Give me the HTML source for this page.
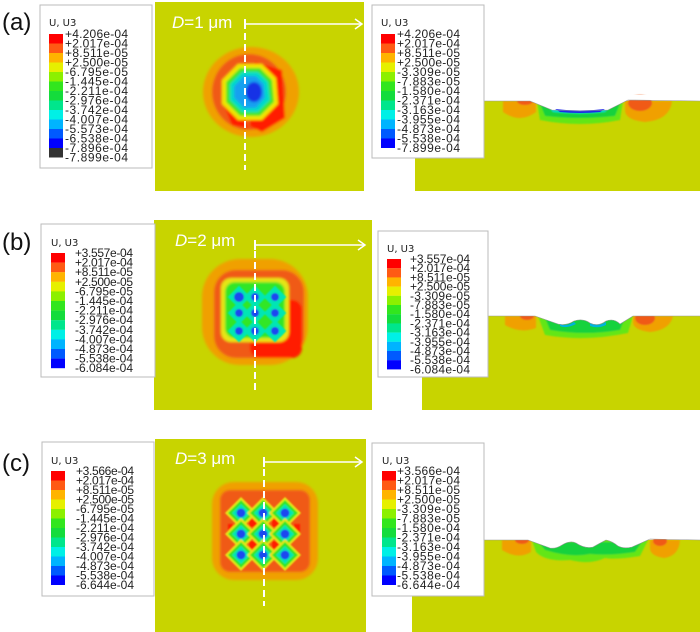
<!DOCTYPE html>
<html><head><meta charset="utf-8"><style>
html,body{margin:0;padding:0;background:#fff;}
svg{display:block;}
.lg{font-family:"Liberation Sans",sans-serif;font-size:12px;fill:#222;}
.tt{font-family:"DejaVu Sans","Liberation Sans",sans-serif;font-size:10px;fill:#222;}
.pl{font-family:"Liberation Sans",sans-serif;font-size:24px;fill:#111;}
.dd{font-family:"Liberation Sans",sans-serif;font-size:17px;fill:#fff;}
</style></head><body>
<svg width="700" height="632" viewBox="0 0 700 632" xmlns="http://www.w3.org/2000/svg">
<defs>
<filter id="bl"><feGaussianBlur stdDeviation="1.2"/></filter>
<filter id="bl2"><feGaussianBlur stdDeviation="0.8"/></filter>
</defs>

<text class="pl" x="2" y="30">(a)</text>
<text class="pl" x="2" y="250">(b)</text>
<text class="pl" x="2" y="471">(c)</text>

<rect x="155" y="2" width="209" height="189" fill="#c8d400"/>
<rect x="154" y="220" width="218" height="190" fill="#c8d400"/>
<rect x="155" y="439" width="211" height="193" fill="#c8d400"/>

<!-- Blob a -->
<g filter="url(#bl)">
<ellipse cx="251" cy="92" rx="48" ry="45" fill="#f0a000"/>
<ellipse cx="249" cy="92" rx="37" ry="38" fill="#f05a14"/>
<path d="M255 62 L282 70 L285 118 L262 132 L250 126 Z" fill="#ff1e00"/>
<path d="M222 100 L232 125 L248 128 L240 110 Z" fill="#ff1e00"/>
<polygon points="238,64 262,64 276,78 278,104 262,120 238,120 222,104 222,80" fill="#f0e600"/>
<polygon points="240,68 260,68 272,80 274,102 260,116 240,116 226,102 226,82" fill="#3ce628"/>
<polygon points="242,72 258,72 268,82 270,100 258,112 242,112 230,100 230,84" fill="#00dcc8"/>
<polygon points="244,76 256,76 264,84 265,98 256,108 244,108 234,98 234,86" fill="#14a0f0"/>
<ellipse cx="254" cy="92" rx="8" ry="10" fill="#1432e6"/>
</g>

<!-- Blob b -->
<g filter="url(#bl)">
<rect x="202" y="259" width="106" height="106" rx="38" fill="#f0a000"/>
<rect x="214" y="270" width="90" height="88" rx="22" fill="#f05a14"/>
<rect x="250" y="300" width="52" height="58" rx="10" fill="#ff1e00"/>
<rect x="221" y="278" width="68" height="64" rx="10" fill="#e6e614"/>
<rect x="225" y="282" width="60" height="56" rx="10" fill="#32e628"/>
</g>
<g filter="url(#bl2)">
<g fill="#00e6b4">
<rect x="231" y="289" width="16" height="16" transform="rotate(45 239 297)"/>
<rect x="247" y="289" width="16" height="16" transform="rotate(45 255 297)"/>
<rect x="267" y="289" width="16" height="16" transform="rotate(45 275 297)"/>
<rect x="231" y="305" width="16" height="16" transform="rotate(45 239 313)"/>
<rect x="247" y="305" width="16" height="16" transform="rotate(45 255 313)"/>
<rect x="267" y="305" width="16" height="16" transform="rotate(45 275 313)"/>
<rect x="231" y="323" width="16" height="16" transform="rotate(45 239 331)"/>
<rect x="247" y="323" width="16" height="16" transform="rotate(45 255 331)"/>
<rect x="267" y="323" width="16" height="16" transform="rotate(45 275 331)"/>
</g>
<g fill="#1e46f0">
<circle cx="239" cy="297" r="5"/><circle cx="255" cy="297" r="4"/><circle cx="275" cy="297" r="4"/>
<circle cx="239" cy="313" r="4"/><circle cx="255" cy="313" r="4"/><circle cx="275" cy="313" r="4"/>
<circle cx="239" cy="331" r="4"/><circle cx="255" cy="331" r="4"/><circle cx="275" cy="331" r="4"/>
</g>
</g>

<!-- Blob c -->
<g filter="url(#bl)">
<rect x="212" y="482" width="106" height="98" rx="22" fill="#f0a000"/>
<rect x="220" y="490" width="90" height="82" rx="10" fill="#f05a14"/>
</g>
<g filter="url(#bl2)">
<g fill="#ff1e00">
<rect x="249" y="519" width="8" height="8"/><rect x="272" y="519" width="8" height="8"/>
<rect x="249" y="541" width="8" height="8"/><rect x="272" y="541" width="8" height="8"/>
<rect x="228" y="524" width="5" height="10"/><rect x="294" y="524" width="6" height="12"/>
</g>
<g id="dia">
<polygon points="241,497 257,513 241,529 225,513" fill="#e6e614"/>
<polygon points="241,500 254,513 241,526 228,513" fill="#32e628"/>
<polygon points="241,504 250,513 241,522 232,513" fill="#00e6b4"/>
<circle cx="241" cy="513" r="4.5" fill="#1e46f0"/>
</g>
<use href="#dia" x="22" y="0"/><use href="#dia" x="44" y="0"/>
<use href="#dia" x="0" y="21"/><use href="#dia" x="22" y="21"/><use href="#dia" x="44" y="21"/>
<use href="#dia" x="0" y="42"/><use href="#dia" x="22" y="42"/><use href="#dia" x="44" y="42"/>
</g>

<g stroke="#fff" stroke-width="2" fill="none">
<line x1="245" y1="22" x2="245" y2="170" stroke-dasharray="7,4"/>
<line x1="245" y1="19" x2="245" y2="29"/>
<line x1="245" y1="24" x2="362" y2="24" stroke-width="1.5"/>
<polyline points="355,19 362,24 355,29" stroke-width="1.5"/>
<line x1="255" y1="240" x2="255" y2="390" stroke-dasharray="7,4"/>
<line x1="255" y1="240" x2="255" y2="250"/>
<line x1="255" y1="245" x2="365" y2="245" stroke-width="1.5"/>
<polyline points="358,240 365,245 358,250" stroke-width="1.5"/>
<line x1="264" y1="458" x2="264" y2="606" stroke-dasharray="7,4"/>
<line x1="264" y1="457" x2="264" y2="467"/>
<line x1="264" y1="462" x2="362" y2="462" stroke-width="1.5"/>
<polyline points="355,457 362,462 355,467" stroke-width="1.5"/>
</g>
<text class="dd" x="172" y="28"><tspan font-style="italic">D</tspan>=1 μm</text>
<text class="dd" x="175" y="246"><tspan font-style="italic">D</tspan>=2 μm</text>
<text class="dd" x="175" y="464"><tspan font-style="italic">D</tspan>=3 μm</text>

<!-- a section -->
<rect x="415" y="101" width="285" height="90" fill="#c8d400"/>
<g filter="url(#bl2)">
<path d="M503 101 L536 101 L536 112 Q520 124 503 112 Z" fill="#f0a000"/>
<ellipse cx="525" cy="101" rx="8" ry="4" fill="#f05a14"/>
<path d="M625 101 L672 101 Q670 120 645 122 Q625 120 625 110 Z" fill="#f0a000"/>
<ellipse cx="640" cy="103" rx="12" ry="8" fill="#f05a14"/>
<path d="M537 101 L623 101 L620 120 Q580 128 540 120 Z" fill="#64e614"/>
<path d="M540 104 L620 104 L615 116 Q580 120 545 116 Z" fill="#14d23c"/>
<path d="M548 106 L610 106 L605 112 Q580 115 553 112 Z" fill="#00dcc8"/>
</g>
<path d="M415 101 L530 101 L552 110 Q580 112 608 110 L628 100 L700 101 L700 95 L415 95 Z" fill="#fff"/>
<path d="M555 109 Q580 112 605 109 L600 112 Q580 114 560 112 Z" fill="#1e28e6"/>
<path d="M415 101 L530 101 L552 110 Q580 112 608 110 L628 100 L700 101" stroke="#999" stroke-width="0.6" fill="none"/>

<!-- b section -->
<rect x="422" y="316" width="278" height="94" fill="#c8d400"/>
<g filter="url(#bl2)">
<path d="M505 316 L536 316 L536 328 Q520 334 505 325 Z" fill="#f0a000"/>
<ellipse cx="527" cy="316" rx="7" ry="4" fill="#f05a14"/>
<path d="M633 316 L673 316 Q670 330 650 332 Q633 330 633 322 Z" fill="#f0a000"/>
<ellipse cx="645" cy="318" rx="10" ry="7" fill="#f05a14"/>
<path d="M538 316 L633 316 L628 333 Q585 342 545 335 Z" fill="#64e614"/>
<path d="M545 318 L625 318 L620 330 Q585 336 550 330 Z" fill="#14d23c"/>
</g>
<path d="M422 316 L535 316 L558 324 Q566 326 574 321 Q583 318 590 323 Q598 327 606 321 Q614 318 620 324 L633 316 L700 316 L700 305 L422 305 Z" fill="#fff"/>
<path d="M560 324 Q566 327 574 322 L576 324 Q566 329 560 326 Z M590 323 Q598 327 606 322 L606 325 Q598 329 590 326 Z" fill="#00b4dc"/>
<path d="M422 316 L535 316 L558 324 Q566 326 574 321 Q583 318 590 323 Q598 327 606 321 Q614 318 620 324 L633 316 L700 316" stroke="#999" stroke-width="0.6" fill="none"/>

<!-- c section -->
<rect x="412" y="540" width="288" height="92" fill="#c8d400"/>
<g filter="url(#bl2)">
<path d="M502 540 L531 540 L531 552 Q518 560 502 550 Z" fill="#f0a000"/>
<ellipse cx="522" cy="540" rx="7" ry="4" fill="#f05a14"/>
<path d="M650 540 L680 540 Q679 556 664 558 Q650 556 650 548 Z" fill="#f0a000"/>
<ellipse cx="660" cy="541" rx="7" ry="5" fill="#f05a14"/>
<path d="M532 540 L648 540 L640 556 Q615 560 605 558 Q590 565 570 560 Q545 562 536 552 Z" fill="#64e614"/>
<path d="M538 542 L642 542 L635 552 Q610 556 590 554 Q570 558 545 550 Z" fill="#14d23c"/>
</g>
<path d="M412 540 L528 540 L550 548 Q556 549 562 545 Q570 540 576 543 Q585 549 593 547 Q600 543 606 540 Q612 541 618 546 Q624 549 632 547 L650 539 L700 540 L700 530 L412 530 Z" fill="#fff"/>
<path d="M412 540 L528 540 L550 548 Q556 549 562 545 Q570 540 576 543 Q585 549 593 547 Q600 543 606 540 Q612 541 618 546 Q624 549 632 547 L650 539 L700 540" stroke="#999" stroke-width="0.6" fill="none"/>

<!-- a left legend -->
<rect x="40" y="5" width="112" height="163" fill="#fff" stroke="#bbb"/>
<text class="tt" x="49" y="26">U, U3</text>
<g>
<rect x="49" y="34" width="14" height="9.6" fill="#ff0000"/>
<rect x="49" y="43.5" width="14" height="9.6" fill="#ff5a14"/>
<rect x="49" y="53" width="14" height="9.6" fill="#ffb400"/>
<rect x="49" y="62.5" width="14" height="9.6" fill="#e6f000"/>
<rect x="49" y="72" width="14" height="9.6" fill="#8cf000"/>
<rect x="49" y="81.5" width="14" height="9.6" fill="#32e61e"/>
<rect x="49" y="91" width="14" height="9.6" fill="#14dc3c"/>
<rect x="49" y="100.5" width="14" height="9.6" fill="#00e68c"/>
<rect x="49" y="110" width="14" height="9.6" fill="#00f0e6"/>
<rect x="49" y="119.5" width="14" height="9.6" fill="#00b4ff"/>
<rect x="49" y="129" width="14" height="9.6" fill="#005aff"/>
<rect x="49" y="138.5" width="14" height="9.6" fill="#0000ff"/>
<rect x="49" y="148" width="14" height="9.5" fill="#333"/>
</g>
<g class="lg" textLength="63" lengthAdjust="spacingAndGlyphs">
<text x="65" y="38" textLength="63">+4.206e-04</text><text x="65" y="47.5" textLength="63">+2.017e-04</text><text x="65" y="57" textLength="63">+8.511e-05</text><text x="65" y="66.5" textLength="63">+2.500e-05</text><text x="65" y="76" textLength="63">-6.795e-05</text><text x="65" y="85.5" textLength="63">-1.445e-04</text><text x="65" y="95" textLength="63">-2.211e-04</text><text x="65" y="104.5" textLength="63">-2.976e-04</text><text x="65" y="114" textLength="63">-3.742e-04</text><text x="65" y="123.5" textLength="63">-4.007e-04</text><text x="65" y="133" textLength="63">-5.573e-04</text><text x="65" y="142.5" textLength="63">-6.538e-04</text><text x="65" y="152" textLength="63">-7.896e-04</text><text x="65" y="161.5" textLength="63">-7.899e-04</text>
</g>

<!-- a right legend -->
<rect x="372" y="5" width="112" height="153" fill="#fff" stroke="#bbb"/>
<text class="tt" x="381" y="26">U, U3</text>
<g>
<rect x="381" y="34" width="14" height="9.6" fill="#ff0000"/>
<rect x="381" y="43.5" width="14" height="9.6" fill="#ff5a14"/>
<rect x="381" y="53" width="14" height="9.6" fill="#ffb400"/>
<rect x="381" y="62.5" width="14" height="9.6" fill="#e6f000"/>
<rect x="381" y="72" width="14" height="9.6" fill="#8cf000"/>
<rect x="381" y="81.5" width="14" height="9.6" fill="#32e61e"/>
<rect x="381" y="91" width="14" height="9.6" fill="#14dc3c"/>
<rect x="381" y="100.5" width="14" height="9.6" fill="#00e68c"/>
<rect x="381" y="110" width="14" height="9.6" fill="#00f0e6"/>
<rect x="381" y="119.5" width="14" height="9.6" fill="#00b4ff"/>
<rect x="381" y="129" width="14" height="9.6" fill="#005aff"/>
<rect x="381" y="138.5" width="14" height="9.5" fill="#0000ff"/>
</g>
<g class="lg">
<text x="397" y="38" textLength="63">+4.206e-04</text><text x="397" y="47.5" textLength="63">+2.017e-04</text><text x="397" y="57" textLength="63">+8.511e-05</text><text x="397" y="66.5" textLength="63">+2.500e-05</text><text x="397" y="76" textLength="63">-3.309e-05</text><text x="397" y="85.5" textLength="63">-7.883e-05</text><text x="397" y="95" textLength="63">-1.580e-04</text><text x="397" y="104.5" textLength="63">-2.371e-04</text><text x="397" y="114" textLength="63">-3.163e-04</text><text x="397" y="123.5" textLength="63">-3.955e-04</text><text x="397" y="133" textLength="63">-4.873e-04</text><text x="397" y="142.5" textLength="63">-5.538e-04</text><text x="397" y="152" textLength="63">-7.899e-04</text>
</g>

<!-- b left legend -->
<rect x="41" y="224" width="114" height="153" fill="#fff" stroke="#bbb"/>
<text class="tt" x="51" y="246">U, U3</text>
<g>
<rect x="51" y="253" width="14" height="9.7" fill="#ff0000"/>
<rect x="51" y="262.6" width="14" height="9.7" fill="#ff5a14"/>
<rect x="51" y="272.2" width="14" height="9.7" fill="#ffb400"/>
<rect x="51" y="281.8" width="14" height="9.7" fill="#e6f000"/>
<rect x="51" y="291.4" width="14" height="9.7" fill="#8cf000"/>
<rect x="51" y="301" width="14" height="9.7" fill="#32e61e"/>
<rect x="51" y="310.6" width="14" height="9.7" fill="#14dc3c"/>
<rect x="51" y="320.2" width="14" height="9.7" fill="#00e68c"/>
<rect x="51" y="329.8" width="14" height="9.7" fill="#00f0e6"/>
<rect x="51" y="339.4" width="14" height="9.7" fill="#00b4ff"/>
<rect x="51" y="349" width="14" height="9.7" fill="#005aff"/>
<rect x="51" y="358.6" width="14" height="9.6" fill="#0000ff"/>
</g>
<g class="lg">
<text x="75" y="257" textLength="58">+3.557e-04</text><text x="75" y="266.6" textLength="58">+2.017e-04</text><text x="75" y="276.2" textLength="58">+8.511e-05</text><text x="75" y="285.8" textLength="58">+2.500e-05</text><text x="75" y="295.4" textLength="58">-6.795e-05</text><text x="75" y="305" textLength="58">-1.445e-04</text><text x="75" y="314.6" textLength="58">-2.211e-04</text><text x="75" y="324.2" textLength="58">-2.976e-04</text><text x="75" y="333.8" textLength="58">-3.742e-04</text><text x="75" y="343.4" textLength="58">-4.007e-04</text><text x="75" y="353" textLength="58">-4.873e-04</text><text x="75" y="362.6" textLength="58">-5.538e-04</text><text x="75" y="372.2" textLength="58">-6.084e-04</text>
</g>

<!-- b right legend -->
<rect x="378" y="231" width="110" height="146" fill="#fff" stroke="#bbb"/>
<text class="tt" x="387" y="252">U, U3</text>
<g>
<rect x="387" y="259" width="14" height="9.3" fill="#ff0000"/>
<rect x="387" y="268.2" width="14" height="9.3" fill="#ff5a14"/>
<rect x="387" y="277.4" width="14" height="9.3" fill="#ffb400"/>
<rect x="387" y="286.6" width="14" height="9.3" fill="#e6f000"/>
<rect x="387" y="295.8" width="14" height="9.3" fill="#8cf000"/>
<rect x="387" y="305" width="14" height="9.3" fill="#32e61e"/>
<rect x="387" y="314.2" width="14" height="9.3" fill="#14dc3c"/>
<rect x="387" y="323.4" width="14" height="9.3" fill="#00e68c"/>
<rect x="387" y="332.6" width="14" height="9.3" fill="#00f0e6"/>
<rect x="387" y="341.8" width="14" height="9.3" fill="#00b4ff"/>
<rect x="387" y="351" width="14" height="9.3" fill="#005aff"/>
<rect x="387" y="360.2" width="14" height="9.2" fill="#0000ff"/>
</g>
<g class="lg">
<text x="410" y="263" textLength="60">+3.557e-04</text><text x="410" y="272.2" textLength="60">+2.017e-04</text><text x="410" y="281.4" textLength="60">+8.511e-05</text><text x="410" y="290.6" textLength="60">+2.500e-05</text><text x="410" y="299.8" textLength="60">-3.309e-05</text><text x="410" y="309" textLength="60">-7.883e-05</text><text x="410" y="318.2" textLength="60">-1.580e-04</text><text x="410" y="327.4" textLength="60">-2.371e-04</text><text x="410" y="336.6" textLength="60">-3.163e-04</text><text x="410" y="345.8" textLength="60">-3.955e-04</text><text x="410" y="355" textLength="60">-4.873e-04</text><text x="410" y="364.2" textLength="60">-5.538e-04</text><text x="410" y="373.4" textLength="60">-6.084e-04</text>
</g>

<!-- c left legend -->
<rect x="42" y="442" width="112" height="154" fill="#fff" stroke="#bbb"/>
<text class="tt" x="51" y="464">U, U3</text>
<g>
<rect x="51" y="471" width="14" height="9.6" fill="#ff0000"/>
<rect x="51" y="480.5" width="14" height="9.6" fill="#ff5a14"/>
<rect x="51" y="490" width="14" height="9.6" fill="#ffb400"/>
<rect x="51" y="499.5" width="14" height="9.6" fill="#e6f000"/>
<rect x="51" y="509" width="14" height="9.6" fill="#8cf000"/>
<rect x="51" y="518.5" width="14" height="9.6" fill="#32e61e"/>
<rect x="51" y="528" width="14" height="9.6" fill="#14dc3c"/>
<rect x="51" y="537.5" width="14" height="9.6" fill="#00e68c"/>
<rect x="51" y="547" width="14" height="9.6" fill="#00f0e6"/>
<rect x="51" y="556.5" width="14" height="9.6" fill="#00b4ff"/>
<rect x="51" y="566" width="14" height="9.6" fill="#005aff"/>
<rect x="51" y="575.5" width="14" height="9.5" fill="#0000ff"/>
</g>
<g class="lg">
<text x="76" y="475" textLength="58">+3.566e-04</text><text x="76" y="484.5" textLength="58">+2.017e-04</text><text x="76" y="494" textLength="58">+8.511e-05</text><text x="76" y="503.5" textLength="58">+2.500e-05</text><text x="76" y="513" textLength="58">-6.795e-05</text><text x="76" y="522.5" textLength="58">-1.445e-04</text><text x="76" y="532" textLength="58">-2.211e-04</text><text x="76" y="541.5" textLength="58">-2.976e-04</text><text x="76" y="551" textLength="58">-3.742e-04</text><text x="76" y="560.5" textLength="58">-4.007e-04</text><text x="76" y="570" textLength="58">-4.873e-04</text><text x="76" y="579.5" textLength="58">-5.538e-04</text><text x="76" y="589" textLength="58">-6.644e-04</text>
</g>

<!-- c right legend -->
<rect x="372" y="443" width="112" height="153" fill="#fff" stroke="#bbb"/>
<text class="tt" x="382" y="464">U, U3</text>
<g>
<rect x="382" y="471" width="14" height="9.6" fill="#ff0000"/>
<rect x="382" y="480.5" width="14" height="9.6" fill="#ff5a14"/>
<rect x="382" y="490" width="14" height="9.6" fill="#ffb400"/>
<rect x="382" y="499.5" width="14" height="9.6" fill="#e6f000"/>
<rect x="382" y="509" width="14" height="9.6" fill="#8cf000"/>
<rect x="382" y="518.5" width="14" height="9.6" fill="#32e61e"/>
<rect x="382" y="528" width="14" height="9.6" fill="#14dc3c"/>
<rect x="382" y="537.5" width="14" height="9.6" fill="#00e68c"/>
<rect x="382" y="547" width="14" height="9.6" fill="#00f0e6"/>
<rect x="382" y="556.5" width="14" height="9.6" fill="#00b4ff"/>
<rect x="382" y="566" width="14" height="9.6" fill="#005aff"/>
<rect x="382" y="575.5" width="14" height="9.5" fill="#0000ff"/>
</g>
<g class="lg">
<text x="397" y="475" textLength="63">+3.566e-04</text><text x="397" y="484.5" textLength="63">+2.017e-04</text><text x="397" y="494" textLength="63">+8.511e-05</text><text x="397" y="503.5" textLength="63">+2.500e-05</text><text x="397" y="513" textLength="63">-3.309e-05</text><text x="397" y="522.5" textLength="63">-7.883e-05</text><text x="397" y="532" textLength="63">-1.580e-04</text><text x="397" y="541.5" textLength="63">-2.371e-04</text><text x="397" y="551" textLength="63">-3.163e-04</text><text x="397" y="560.5" textLength="63">-3.955e-04</text><text x="397" y="570" textLength="63">-4.873e-04</text><text x="397" y="579.5" textLength="63">-5.538e-04</text><text x="397" y="589" textLength="63">-6.644e-04</text>
</g>
</svg>
</body></html>
